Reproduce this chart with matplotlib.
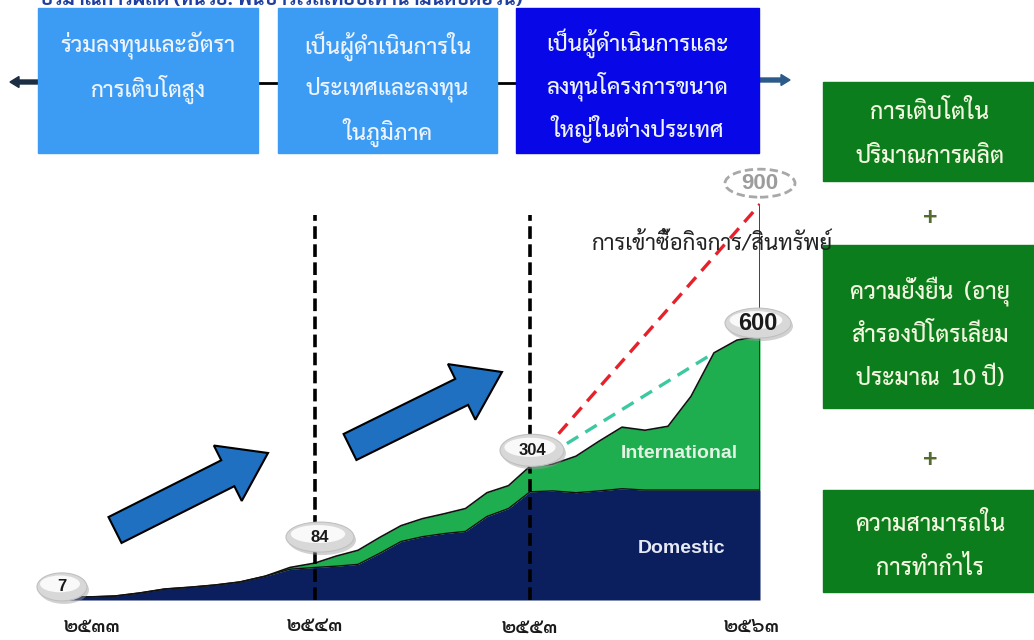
import numpy as np
import matplotlib
matplotlib.use("Agg")
import matplotlib.pyplot as plt
from matplotlib import font_manager
from matplotlib.patches import Rectangle, Ellipse, FancyArrow
from matplotlib.transforms import IdentityTransform, ScaledTranslation

# pick a Thai capable family that is installed
installed = {f.name for f in font_manager.fontManager.ttflist}
thai = next((n for n in ["Sarabun", "Noto Sans Thai Looped", "Noto Sans Thai", "Anuphan"]
             if n in installed), "DejaVu Sans")
plt.rcParams["font.family"] = [thai, "DejaVu Sans"]
latin = ["Liberation Sans", "DejaVu Sans"]

# production, thousand barrels per day
years = list(range(2533, 2564))
total = [7, 7, 9, 16, 25, 29, 34, 41, 54, 74,
         84, 100, 113, 142, 169, 185, 196, 208, 244, 260,
         304, 309, 327, 361, 393, 386, 395, 463, 562, 591,
         600]
domestic = [7, 7, 9, 16, 25, 29, 34, 41, 54, 70,
            74, 77, 81, 106, 133, 144, 151, 156, 190, 208,
            246, 248, 244, 248, 253, 250, 250, 250, 250, 250,
            250]
milestones = [2533, 2543, 2553, 2563]
milestone_vals = [7, 84, 304, 600]
year_labels = ["๒๕๓๓", "๒๕๔๓", "๒๕๕๓", "๒๕๖๓"]
acq_years = [2553, 2563]
acq_vals = [304, 900]
org_years = [2553, 2561]
org_vals = [304, 562]

title = "ปริมาณการผลิต (หน่วย: พันบาร์เรลเทียบเท่าน้ำมันดิบต่อวัน)"
stage_texts = [["ร่วมลงทุนและอัตรา", "การเติบโตสูง"],
               ["เป็นผู้ดำเนินการใน", "ประเทศและลงทุน", "ในภูมิภาค"],
               ["เป็นผู้ดำเนินการและ", "ลงทุนโครงการขนาด", "ใหญ่ในต่างประเทศ"]]
factor_texts = [["การเติบโตใน", "ปริมาณการผลิต"],
                ["ความยั่งยืน  (อายุ", "สำรองปิโตรเลียม", "ประมาณ  10 ปี)"],
                ["ความสามารถใน", "การทำกำไร"]]
acq_label = "การเข้าซื้อกิจการ/สินทรัพย์"

fig = plt.figure(figsize=(10.34, 6.4), dpi=100)

# background layer in pixel units (y down) for the boxes and arrows
bg = fig.add_axes([0, 0, 1, 1])
bg.set_xlim(0, 1034)
bg.set_ylim(640, 0)
bg.axis("off")

bg.text(40, 5, title, color="#1f3fa0", fontsize=14, fontweight="bold", va="baseline")

# stage boxes on top
bg.plot([250, 285], [83, 83], color="black", lw=2)
bg.plot([490, 525], [83, 83], color="black", lw=2)
bg.add_patch(FancyArrow(40, 82, -30, 0, width=4, head_width=11, head_length=9,
                        length_includes_head=True, color="#1c2e44"))
bg.add_patch(FancyArrow(759, 80, 31, 0, width=4, head_width=11, head_length=9,
                        length_includes_head=True, color="#2c5b8a"))
stage_boxes = [(38, 258, "#3c9cf4", [46, 89]),
               (278, 497, "#3c9cf4", [46, 89, 132]),
               (516, 759, "#0707e8", [43, 86, 129])]
for (x0, x1, c, ys), lines in zip(stage_boxes, stage_texts):
    bg.add_patch(Rectangle((x0, 8), x1 - x0, 145, color=c, zorder=2))
    for y, s in zip(ys, lines):
        bg.text((x0 + x1) / 2, y, s, color="#eef4ff", fontsize=16, fontweight="medium",
                ha="center", va="center", zorder=3)

# factor boxes on the right
factor_boxes = [(82, 181, [112, 157]), (245, 408, [291, 335, 378]), (490, 592, [524, 568])]
for (y0, y1, ys), lines in zip(factor_boxes, factor_texts):
    bg.add_patch(Rectangle((823, y0), 1034 - 823, y1 - y0, color="#0c7d1c"))
    for y, s in zip(ys, lines):
        bg.text(930, y, s, color="#f2f6de", fontsize=16.5, fontweight="medium",
                ha="center", va="center")
for y in [218, 460]:
    bg.text(930, y, "+", color="#556b2f", fontsize=18, fontweight="bold",
            ha="center", va="center", family=latin)

# big growth arrows
for tx, ty, dx, dy in [(115, 530, 153, -77), (350, 447, 152, -75)]:
    bg.add_patch(FancyArrow(tx, ty, dx, dy, width=29, head_width=62, head_length=45,
                            length_includes_head=True, fc="#1f70c1", ec="black", lw=1.5))

# chart axes: x is the Buddhist-era year, y is production
ax = fig.add_axes([65 / 1034, 40 / 640, 695 / 1034, 420 / 640])
ax.patch.set_alpha(0)
brk_y = [2500, 2533, 2543, 2553, 2563, 2600]
brk_p = [-825, 0, 250, 465, 695, 1546]
ax.set_xscale("function", functions=(lambda x: np.interp(x, brk_y, brk_p),
                                     lambda p: np.interp(p, brk_p, brk_y)))
ax.set_xlim(2533, 2563)
ax.set_ylim(0, 955)
ax.axis("off")

ax.fill_between(years, 0, domestic, color="#0b1f5e", lw=0, zorder=1)
ax.fill_between(years, domestic, total, color="#1fae4f", lw=0, zorder=1)
ax.plot(years, domestic, color="#111111", lw=1.0, zorder=2)
ax.plot(years, total, color="#111111", lw=1.2, zorder=2)
ax.vlines(2563, 0, 900, color="#222222", lw=1.2, zorder=2)

ax.vlines(milestones[1:3], 0, 875, color="black", lw=2.6, linestyles=(0, (3.5, 1.5)), zorder=3)
ax.plot(acq_years, acq_vals, color="#e8202a", lw=2.4, dashes=(4, 2.5), zorder=4)
ax.plot(org_years, org_vals, color="#3cc8a0", lw=2.4, dashes=(4, 2.5), zorder=4)

ax.text(2559.5, 334, "International", color="#e4f2e4", fontsize=14, fontweight="bold",
        ha="center", va="center", family=latin, zorder=5)
ax.text(2559.6, 118, "Domestic", color="#e6eaf4", fontsize=14, fontweight="bold",
        ha="center", va="center", family=latin, zorder=5)
ax.text(2560.9, 811, acq_label, color="#222222", fontsize=16, ha="center", va="center", zorder=5)


def bubble(x, y, text, dx, dy, w, h, size, dashed=False):
    tr = IdentityTransform() + ScaledTranslation(x, y, ax.transData)
    if dashed:
        ax.add_patch(Ellipse((dx, dy), w, h, transform=tr, fc="white", ec="#a8a8a8", lw=2,
                             ls=(0, (3, 1.5)), clip_on=False, zorder=6))
        color = "#9c9c9c"
    else:
        ax.add_patch(Ellipse((dx + 2, dy - 3), w, h, transform=tr, fc="#9a9a9a", alpha=0.45,
                             lw=0, clip_on=False, zorder=6))
        ax.add_patch(Ellipse((dx, dy), w, h, transform=tr, fc="#d8d8d8", ec="#c0c0c0", lw=0.8,
                             clip_on=False, zorder=6))
        ax.add_patch(Ellipse((dx - 2, dy + 3), w * 0.8, h * 0.6, transform=tr, fc="white",
                             alpha=0.85, lw=0, clip_on=False, zorder=6))
        color = "#1a1a1a"
    ax.annotate(text, (x, y), xytext=(dx, dy), textcoords="offset pixels", ha="center",
                va="center", fontsize=size, fontweight="bold", family=latin, color=color,
                zorder=7, annotation_clip=False)


offsets = [(-3, 10, 50, 28, 12), (5, 26, 68, 30, 12), (2, 16, 64, 32, 12), (-2, 13, 66, 30, 17)]
for x, v, (dx, dy, w, h, s) in zip(milestones, milestone_vals, offsets):
    bubble(x, v, str(v), dx, dy, w, h, s)
bubble(acq_years[1], acq_vals[1], str(acq_vals[1]), 0, 21, 70, 28, 16, dashed=True)

for x, s, dx, dy in zip(milestones, year_labels, [27, 0, 0, -8], [-27, -26, -28, -27]):
    ax.annotate(s, (x, 0), xytext=(dx, dy), textcoords="offset pixels", ha="center",
                va="center", fontsize=14.5, fontweight="semibold", color="#1a1a1a",
                annotation_clip=False)

fig.savefig("out.png")
